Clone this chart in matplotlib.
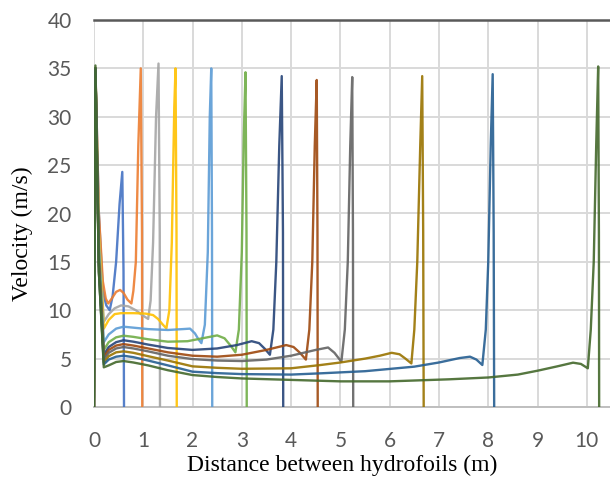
import matplotlib
matplotlib.use("Agg")
import matplotlib.pyplot as plt

# velocity profiles, one per hydrofoil spacing
x_061 = [0, 0.03, 0.1, 0.18, 0.25, 0.32, 0.38, 0.45, 0.52, 0.575, 0.6, 0.61]
y_061 = [0, 35, 20, 12, 10.5, 10, 11.5, 15, 21, 24.3, 14, 0]

x_098 = [0, 0.03, 0.1, 0.18, 0.24, 0.29, 0.36, 0.45, 0.53, 0.6, 0.68, 0.76, 0.8, 0.85, 0.9, 0.95, 0.975, 0.98]
y_098 = [0, 35, 20, 13, 11.2, 10.7, 11.2, 11.9, 12.1, 11.8, 11.1, 10.7, 12, 15, 27, 35, 18, 0]

x_134 = [0, 0.03, 0.1, 0.2, 0.3, 0.42, 0.55, 0.7, 0.85, 0.98, 1.1, 1.15, 1.2, 1.26, 1.31, 1.335, 1.34]
y_134 = [0, 35, 18, 8.8, 9.6, 10.2, 10.5, 10.4, 10.0, 9.5, 9.1, 11, 17, 30, 35.5, 18, 0]

x_168 = [0, 0.03, 0.1, 0.2, 0.3, 0.42, 0.55, 0.8, 1.05, 1.2, 1.3, 1.4, 1.47, 1.53, 1.58, 1.63, 1.655, 1.675, 1.68]
y_168 = [0, 35, 18, 8.1, 9.0, 9.6, 9.7, 9.7, 9.65, 9.5, 9.1, 8.5, 8.13, 10, 17, 31, 35, 18, 0]

x_240 = [0, 0.03, 0.1, 0.2, 0.3, 0.45, 0.6, 0.8, 1.1, 1.5, 1.8, 1.95, 2.05, 2.12, 2.18, 2.25, 2.31, 2.35, 2.38, 2.395, 2.4]
y_240 = [0, 35, 17, 6.7, 7.5, 8.1, 8.3, 8.2, 8.05, 7.96, 8.05, 8.1, 7.6, 7.0, 6.6, 8.5, 16, 30, 35, 18, 0]

x_310 = [0, 0.03, 0.1, 0.2, 0.3, 0.45, 0.6, 0.8, 1.1, 1.5, 1.9, 2.2, 2.5, 2.65, 2.78, 2.87, 2.94, 3.0, 3.04, 3.075, 3.095, 3.1]
y_310 = [0, 35, 16, 5.9, 6.7, 7.2, 7.37, 7.25, 7.0, 6.75, 6.8, 7.1, 7.4, 7.1, 6.3, 5.65, 8, 16, 28, 34.6, 18, 0]

x_384 = [0, 0.03, 0.1, 0.2, 0.3, 0.45, 0.6, 0.8, 1.1, 1.5, 2.0, 2.5, 2.9, 3.2, 3.35, 3.47, 3.57, 3.64, 3.7, 3.76, 3.81, 3.835, 3.84]
y_384 = [0, 35, 15, 5.4, 6.2, 6.7, 6.9, 6.75, 6.45, 6.1, 5.9, 6.05, 6.4, 6.8, 6.6, 6.0, 5.4, 8, 15, 27, 34.2, 18, 0]

x_454 = [0, 0.03, 0.1, 0.2, 0.3, 0.45, 0.6, 0.8, 1.1, 1.5, 2.0, 2.5, 3.0, 3.5, 3.9, 4.05, 4.18, 4.3, 4.37, 4.43, 4.48, 4.52, 4.535, 4.54]
y_454 = [0, 35, 15, 5.1, 5.9, 6.35, 6.5, 6.35, 6.05, 5.65, 5.3, 5.2, 5.4, 5.9, 6.4, 6.2, 5.6, 4.9, 8, 15, 27, 33.8, 18, 0]

x_526 = [0, 0.03, 0.1, 0.2, 0.3, 0.45, 0.6, 0.8, 1.1, 1.5, 2.0, 2.5, 3.0, 3.5, 4.0, 4.5, 4.75, 4.88, 5.02, 5.09, 5.15, 5.2, 5.24, 5.255, 5.26]
y_526 = [0, 35, 15, 4.9, 5.6, 6.05, 6.2, 6.05, 5.75, 5.3, 4.95, 4.8, 4.75, 4.9, 5.3, 5.9, 6.15, 5.6, 4.68, 8, 15, 27, 34.1, 18, 0]

x_669 = [0, 0.03, 0.1, 0.2, 0.3, 0.45, 0.6, 0.8, 1.1, 1.5, 2.0, 2.5, 3.0, 4.0, 4.6, 5.0, 5.5, 5.8, 6.04, 6.2, 6.32, 6.44, 6.5, 6.56, 6.62, 6.66, 6.68, 6.69]
y_669 = [0, 35, 14, 4.6, 5.25, 5.65, 5.75, 5.6, 5.25, 4.8, 4.2, 4.05, 3.95, 4.0, 4.34, 4.6, 5.0, 5.3, 5.6, 5.45, 5.0, 4.5, 8, 15, 27, 34.2, 18, 0]

x_812 = [0, 0.03, 0.1, 0.2, 0.3, 0.45, 0.6, 0.8, 1.1, 1.5, 2.0, 2.5, 3.0, 4.0, 4.6, 5.5, 6.5, 7.0, 7.42, 7.63, 7.76, 7.88, 7.95, 8.0, 8.05, 8.09, 8.11, 8.12]
y_812 = [0, 35, 14, 4.4, 4.9, 5.2, 5.3, 5.15, 4.8, 4.3, 3.65, 3.5, 3.4, 3.35, 3.48, 3.7, 4.17, 4.6, 5.06, 5.2, 4.9, 4.34, 8, 15, 27, 34.4, 18, 0]

x_1025 = [0, 0.03, 0.1, 0.2, 0.3, 0.45, 0.6, 0.8, 1.1, 1.5, 2.0, 2.5, 3.0, 4.0, 5.0, 6.0, 7.2, 8.0, 8.6, 9.0, 9.4, 9.72, 9.88, 10.02, 10.08, 10.14, 10.19, 10.23, 10.245, 10.25]
y_1025 = [0, 35.3, 14, 4.1, 4.3, 4.65, 4.75, 4.6, 4.3, 3.8, 3.3, 3.1, 2.95, 2.8, 2.65, 2.65, 2.86, 3.05, 3.35, 3.75, 4.2, 4.58, 4.45, 4.0, 8, 15, 27, 35.2, 18, 0]

x_ticks = list(range(0, 11))
y_ticks = list(range(0, 41, 5))

# excel default palette, in series order
colors = ["#4472C4", "#ED7D31", "#A5A5A5", "#FFC000", "#5B9BD5", "#70AD47",
          "#264478", "#9E480E", "#636363", "#997300", "#255E91", "#43682B"]

series = [(x_061, y_061), (x_098, y_098), (x_134, y_134), (x_168, y_168),
          (x_240, y_240), (x_310, y_310), (x_384, y_384), (x_454, y_454),
          (x_526, y_526), (x_669, y_669), (x_812, y_812), (x_1025, y_1025)]

fig = plt.figure(figsize=(6.1, 4.88), dpi=100)
ax = fig.add_axes([0.154, 0.166, 0.846, 0.793])

for (xs, ys), c in zip(series, colors):
    ax.plot(xs, ys, color=c, lw=1.7, alpha=0.9, solid_joinstyle="round", zorder=3)

ax.set_xlim(0, 10.47)
ax.set_ylim(0, 40)
ax.set_xticks(x_ticks)
ax.set_yticks(y_ticks)
ax.grid(True, color="#D9D9D9", lw=1.4, zorder=0)
ax.set_axisbelow(True)

for s in ["left", "right"]:
    ax.spines[s].set_visible(False)
ax.spines["bottom"].set_color("#BFBFBF")
ax.spines["bottom"].set_linewidth(1.4)
ax.spines["top"].set_color("#595959")
ax.spines["top"].set_linewidth(1.8)

ax.tick_params(length=0, labelsize=15, labelcolor="#595959")
ax.tick_params(axis="x", pad=17)
ax.tick_params(axis="y", pad=16)
for lab in ax.get_xticklabels() + ax.get_yticklabels():
    lab.set_family("Lato")

fig.text(0.5615, 0.047, "Distance between hydrofoils (m)", ha="center", va="center",
         family="Liberation Serif", fontsize=17)
fig.text(0.036, 0.522, "Velocity (m/s)", ha="center", va="center", rotation=90,
         family="Liberation Serif", fontsize=17)

fig.savefig("out.png", dpi=100, facecolor="white")
